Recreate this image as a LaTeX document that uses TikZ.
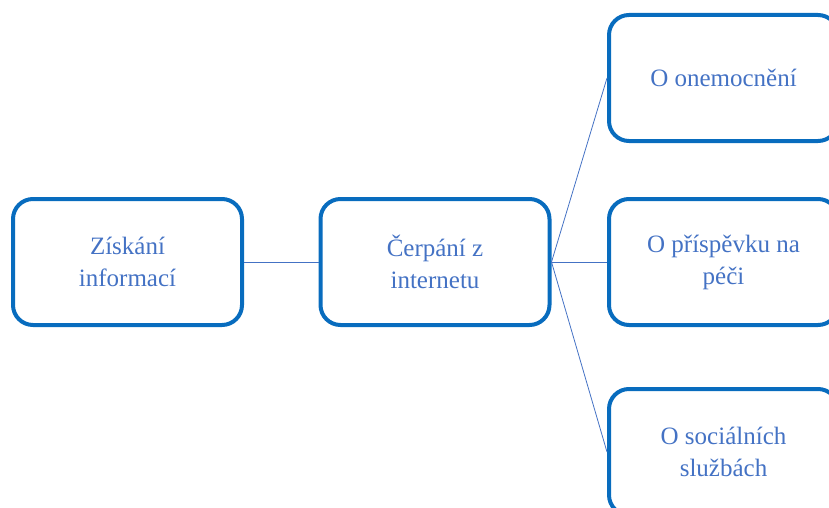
\documentclass[tikz,border=0pt]{standalone}
\usepackage{fontspec}
\setmainfont{Liberation Serif}
\definecolor{boxblue}{RGB}{8,108,190}
\definecolor{txtblue}{RGB}{68,114,196}
\tikzset{
	infobox/.style = {shape=rectangle, rounded corners=20pt,
		draw=boxblue, line width=4pt, align=center,
		minimum width=229pt, minimum height=126pt,
		text=txtblue, font=\fontsize{25}{32}\selectfont},
	link/.style    = {draw=txtblue, line width=0.8pt}
}
\begin{document}
\begin{tikzpicture}
[
x = 1pt,
y = -1pt
]
\useasboundingbox (0,0) rectangle (829,508);
\node [infobox] (ziskani) at (127.5,262) {Získání\\informací};
\node [infobox] (cerpani) at (435,262) {Čerpání z\\internetu};
\node [infobox] (onemoc) at (723.5,78) {O onemocnění};
\node [infobox] (prispevek) at (723.5,262) {O příspěvku na\\péči};
\node [infobox] (sluzby) at (723.5,452) {O sociálních\\službách};
\draw [link] (ziskani.east) -- (cerpani.west);
\draw [link] (cerpani.east) -- (onemoc.west);
\draw [link] (cerpani.east) -- (prispevek.west);
\draw [link] (cerpani.east) -- (sluzby.west);
\end{tikzpicture}
\end{document}
